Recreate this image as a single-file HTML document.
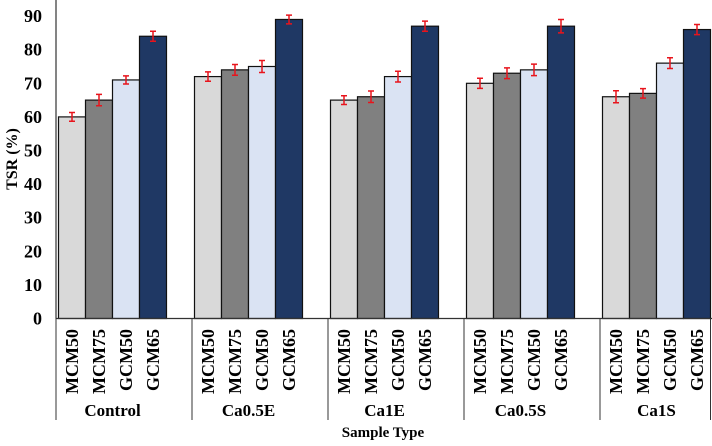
<!DOCTYPE html>
<html><head><meta charset="utf-8"><style>
body{margin:0;background:#fff}
svg text{font-family:"Liberation Serif",serif;font-weight:bold;fill:#000}
</style></head><body>
<svg id="c" width="712" height="441"></svg>
<script>
const groups=["Control","Ca0.5E","Ca1E","Ca0.5S","Ca1S"];
const series=["MCM50","MCM75","GCM50","GCM65"];
const colors=["#d9d9d9","#808080","#dae3f3","#1f3864"];
const values=[[60,65,71,84],[72,74,75,89],[65,66,72,87],[70,73,74,87],[66,67,76,86]];
const errors=[[1.3,1.7,1.2,1.5],[1.4,1.6,1.8,1.3],[1.3,1.7,1.6,1.5],[1.5,1.6,1.7,2.0],[1.8,1.4,1.6,1.5]];
const ticks=[0,10,20,30,40,50,60,70,80,90];
const NS="http://www.w3.org/2000/svg",svg=document.getElementById('c');
const x0=56,y0=318.5,k=3.36,band=136,bw=27;
const y=v=>y0-v*k;
const gx=i=>x0+i*band;
function el(t,a,p){const e=document.createElementNS(NS,t);for(const q in a)e.setAttribute(q,a[q]);(p||svg).appendChild(e);return e;}
ticks.forEach(t=>{const e=el('text',{x:42,y:y(t)+6,'text-anchor':'end','font-size':18});e.textContent=t;

});
groups.forEach((g,i)=>{
 values[i].forEach((v,j)=>{
  const bx=gx(i)+2.5+j*bw;
  const r=el('rect',{x:bx,y:y(v),width:bw,height:y0-y(v),fill:colors[j],stroke:'#111','stroke-width':1.2});
  
  
  const cx=bx+bw/2,e=errors[i][j];
  const eb=el('path',{d:`M${cx},${y(v+e)}V${y(v-e)}M${cx-3},${y(v+e)}H${cx+3}M${cx-3},${y(v-e)}H${cx+3}`,stroke:'#e8141c','stroke-width':1.5,fill:'none'});
  
  
  const tx=cx+6,tl=el('text',{x:0,y:0,'font-size':18,'text-anchor':'end',transform:`translate(${tx},${329}) rotate(-90)`});
  tl.textContent=series[j];
  
  
 });
 const gl=el('text',{x:gx(i)+2.5+2*bw,y:416,'font-size':17,'text-anchor':'middle'});gl.textContent=g;
 
 
 const ln=el('line',{x1:gx(i),y1:y0,x2:gx(i),y2:420,stroke:'#333','stroke-width':1});
 
 
});
el('line',{x1:710.5,y1:y0,x2:710.5,y2:420,stroke:'#333','stroke-width':1});
const ax=el('line',{x1:x0,y1:0,x2:x0,y2:y0,stroke:'#333','stroke-width':1.2});


const xa=el('line',{x1:x0,y1:y0,x2:712,y2:y0,stroke:'#333','stroke-width':1.2});


const yt=el('text',{x:0,y:0,'font-size':16,'text-anchor':'middle',transform:'translate(17,159) rotate(-90)'});yt.textContent='TSR (%)';


const xt=el('text',{x:383,y:437,'font-size':15,'text-anchor':'middle'});xt.textContent='Sample Type';


</script>
</body></html>
